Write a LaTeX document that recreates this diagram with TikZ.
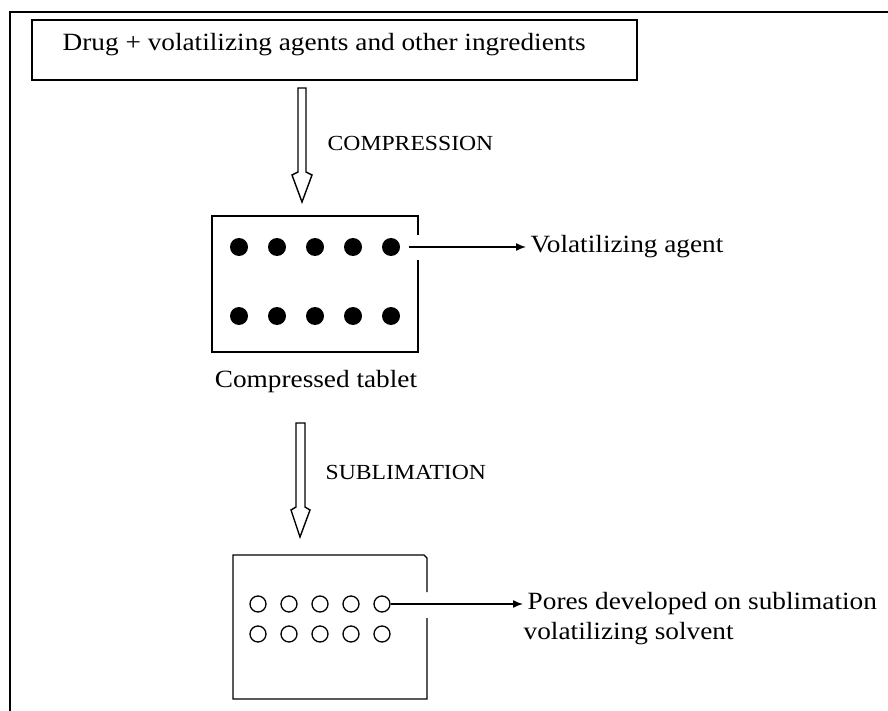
\documentclass[tikz,border=0pt]{standalone}
\usepackage{fontspec}
\setmainfont{Liberation Serif}[FakeStretch=1.1]
\usetikzlibrary{arrows.meta}
\tikzset{
  lbl/.style={anchor=west,inner sep=0pt,font=\fontsize{24.8}{29}\selectfont},
  stage/.style={anchor=west,inner sep=0pt,font=\fontsize{21.5}{25}\selectfont},
  dot/.style={circle,fill=black,inner sep=0pt,minimum size=18pt},
  pore/.style={circle,draw=black,line width=1.3pt,inner sep=0pt,minimum size=16pt},
}
\begin{document}
\begin{tikzpicture}[x=1pt,y=-1pt,line width=1.4pt,>={Latex[length=10pt,width=8pt]}]
\useasboundingbox (0,0) rectangle (888,711);
% frame
\draw[line width=1.7pt] (888,12)--(10,12)--(10,711);
% mixture
\draw (32,20) rectangle (637,80);
\node[lbl] (mix) at (62,45) {Drug + volatilizing agents and other ingredients};
% compression
\draw (298,88)--(306,88)--(306,172)--(312,175)--(302,202)--(292,175)--(298,172)--cycle;
\node[stage] (comp) at (327,143) {COMPRESSION};
% compressed tablet
\draw (418,235)--(418,216)--(212,216)--(212,352)--(418,352)--(418,260);
\foreach \x [count=\i] in {239,277,315,353,391}{
  \node[dot] (d\i) at (\x,247) {};
  \node[dot] (e\i) at (\x,316) {};
}
\node[lbl] (agent) at (530,247) {Volatilizing agent};
\draw[->,shorten <=8pt,shorten >=4pt] (d5) -- (agent);
\node[lbl,anchor=center] (tab) at (316,382) {Compressed tablet};
% sublimation
\draw (296,423)--(305,423)--(305,507)--(310,510)--(300,537)--(291,510)--(296,507)--cycle;
\node[stage] (subl) at (325,472) {SUBLIMATION};
% porous tablet
\draw (427,592)--(427,558)--(424,555)--(233,555)--(233,699)--(427,699)--(427,618);
\foreach \x [count=\i] in {258,289,320,351,382}{
  \node[pore] (p\i) at (\x,604) {};
  \node[pore] (q\i) at (\x,634) {};
}
\node[lbl] (pores) at (527,604) {Pores developed on sublimation};
\node[lbl] (solv) at (523,634) {volatilizing solvent};
\draw[->,shorten >=4pt] (p5) -- (pores);
\end{tikzpicture}
\end{document}
